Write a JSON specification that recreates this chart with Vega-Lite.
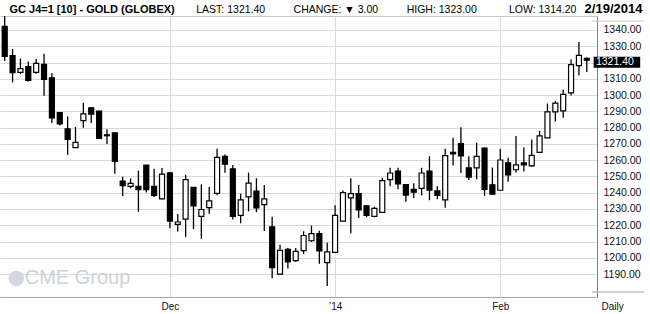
{
  "$schema": "https://vega.github.io/schema/vega-lite/v6.json",
  "width": 597,
  "height": 281,
  "autosize": {"type": "none"},
  "padding": {"left": 0, "top": 16, "right": 53, "bottom": 17},
  "background": "#ffffff",
  "config": {
    "view": {"stroke": null},
    "font": "Liberation Sans",
    "axis": {"labelFont": "Liberation Sans", "titleFont": "Liberation Sans"}
  },
  "data": {
    "values": [
      {"i": 0, "date": "2013-10-31", "open": 1342.2, "high": 1349.0, "low": 1321.0, "close": 1323.8},
      {"i": 1, "date": "2013-11-01", "open": 1324.2, "high": 1328.3, "low": 1307.8, "close": 1313.7},
      {"i": 2, "date": "2013-11-04", "open": 1313.9, "high": 1322.4, "low": 1312.9, "close": 1316.3},
      {"i": 3, "date": "2013-11-05", "open": 1317.5, "high": 1320.6, "low": 1308.4, "close": 1309.0},
      {"i": 4, "date": "2013-11-06", "open": 1313.9, "high": 1322.2, "low": 1313.1, "close": 1319.5},
      {"i": 5, "date": "2013-11-07", "open": 1318.9, "high": 1325.4, "low": 1299.5, "close": 1309.6},
      {"i": 6, "date": "2013-11-08", "open": 1310.6, "high": 1313.5, "low": 1282.9, "close": 1285.9},
      {"i": 7, "date": "2013-11-11", "open": 1289.2, "high": 1289.5, "low": 1281.3, "close": 1282.3},
      {"i": 8, "date": "2013-11-12", "open": 1279.2, "high": 1286.9, "low": 1263.2, "close": 1272.8},
      {"i": 9, "date": "2013-11-13", "open": 1267.7, "high": 1280.3, "low": 1267.5, "close": 1270.9},
      {"i": 10, "date": "2013-11-14", "open": 1284.3, "high": 1295.2, "low": 1279.9, "close": 1288.4},
      {"i": 11, "date": "2013-11-15", "open": 1292.2, "high": 1292.5, "low": 1282.9, "close": 1288.2},
      {"i": 12, "date": "2013-11-18", "open": 1290.2, "high": 1290.4, "low": 1273.2, "close": 1273.4},
      {"i": 13, "date": "2013-11-19", "open": 1275.6, "high": 1279.0, "low": 1269.9, "close": 1275.0},
      {"i": 14, "date": "2013-11-20", "open": 1276.8, "high": 1277.0, "low": 1251.7, "close": 1259.2},
      {"i": 15, "date": "2013-11-21", "open": 1247.1, "high": 1249.8, "low": 1237.8, "close": 1244.3},
      {"i": 16, "date": "2013-11-22", "open": 1243.9, "high": 1248.8, "low": 1242.7, "close": 1245.7},
      {"i": 17, "date": "2013-11-25", "open": 1243.9, "high": 1253.6, "low": 1228.3, "close": 1241.9},
      {"i": 18, "date": "2013-11-26", "open": 1256.9, "high": 1257.1, "low": 1240.1, "close": 1241.9},
      {"i": 19, "date": "2013-11-27", "open": 1243.9, "high": 1254.8, "low": 1237.4, "close": 1238.4},
      {"i": 20, "date": "2013-11-29", "open": 1236.2, "high": 1255.2, "low": 1236.0, "close": 1251.4},
      {"i": 21, "date": "2013-12-02", "open": 1252.2, "high": 1252.4, "low": 1218.2, "close": 1222.6},
      {"i": 22, "date": "2013-12-03", "open": 1220.6, "high": 1226.9, "low": 1216.2, "close": 1222.0},
      {"i": 23, "date": "2013-12-04", "open": 1223.8, "high": 1251.0, "low": 1212.7, "close": 1248.0},
      {"i": 24, "date": "2013-12-05", "open": 1243.3, "high": 1243.5, "low": 1217.6, "close": 1231.9},
      {"i": 25, "date": "2013-12-06", "open": 1225.5, "high": 1245.1, "low": 1211.7, "close": 1229.7},
      {"i": 26, "date": "2013-12-09", "open": 1230.9, "high": 1243.5, "low": 1227.1, "close": 1235.0},
      {"i": 27, "date": "2013-12-10", "open": 1239.6, "high": 1267.0, "low": 1238.4, "close": 1261.7},
      {"i": 28, "date": "2013-12-11", "open": 1262.3, "high": 1263.5, "low": 1252.2, "close": 1257.5},
      {"i": 29, "date": "2013-12-12", "open": 1254.6, "high": 1257.1, "low": 1223.6, "close": 1225.5},
      {"i": 30, "date": "2013-12-13", "open": 1226.1, "high": 1239.4, "low": 1221.3, "close": 1235.6},
      {"i": 31, "date": "2013-12-16", "open": 1237.4, "high": 1252.4, "low": 1228.5, "close": 1245.9},
      {"i": 32, "date": "2013-12-17", "open": 1241.0, "high": 1248.9, "low": 1228.1, "close": 1230.7},
      {"i": 33, "date": "2013-12-18", "open": 1232.7, "high": 1244.7, "low": 1216.5, "close": 1236.2},
      {"i": 34, "date": "2013-12-19", "open": 1219.0, "high": 1225.2, "low": 1187.4, "close": 1194.0},
      {"i": 35, "date": "2013-12-20", "open": 1190.0, "high": 1208.0, "low": 1189.8, "close": 1204.6},
      {"i": 36, "date": "2013-12-23", "open": 1205.2, "high": 1206.0, "low": 1193.4, "close": 1197.5},
      {"i": 37, "date": "2013-12-24", "open": 1198.3, "high": 1206.0, "low": 1197.5, "close": 1204.0},
      {"i": 38, "date": "2013-12-26", "open": 1204.4, "high": 1216.3, "low": 1202.4, "close": 1213.7},
      {"i": 39, "date": "2013-12-27", "open": 1210.5, "high": 1219.8, "low": 1209.8, "close": 1214.9},
      {"i": 40, "date": "2013-12-30", "open": 1214.9, "high": 1216.7, "low": 1196.3, "close": 1204.2},
      {"i": 41, "date": "2013-12-31", "open": 1197.1, "high": 1209.2, "low": 1182.7, "close": 1203.6},
      {"i": 42, "date": "2014-01-02", "open": 1203.4, "high": 1232.3, "low": 1203.2, "close": 1226.1},
      {"i": 43, "date": "2014-01-03", "open": 1222.6, "high": 1241.4, "low": 1222.4, "close": 1240.0},
      {"i": 44, "date": "2014-01-06", "open": 1236.8, "high": 1248.9, "low": 1215.1, "close": 1239.4},
      {"i": 45, "date": "2014-01-07", "open": 1239.4, "high": 1244.7, "low": 1224.5, "close": 1229.5},
      {"i": 46, "date": "2014-01-08", "open": 1232.0, "high": 1232.2, "low": 1224.9, "close": 1226.1},
      {"i": 47, "date": "2014-01-09", "open": 1225.5, "high": 1231.4, "low": 1224.9, "close": 1230.4},
      {"i": 48, "date": "2014-01-10", "open": 1227.9, "high": 1249.2, "low": 1227.7, "close": 1247.4},
      {"i": 49, "date": "2014-01-13", "open": 1248.0, "high": 1255.3, "low": 1243.9, "close": 1252.1},
      {"i": 50, "date": "2014-01-14", "open": 1253.3, "high": 1255.3, "low": 1242.1, "close": 1245.4},
      {"i": 51, "date": "2014-01-15", "open": 1245.0, "high": 1245.2, "low": 1234.4, "close": 1238.5},
      {"i": 52, "date": "2014-01-16", "open": 1242.1, "high": 1245.8, "low": 1236.7, "close": 1240.3},
      {"i": 53, "date": "2014-01-17", "open": 1242.7, "high": 1255.3, "low": 1238.3, "close": 1252.1},
      {"i": 54, "date": "2014-01-21", "open": 1253.3, "high": 1262.4, "low": 1235.4, "close": 1241.5},
      {"i": 55, "date": "2014-01-22", "open": 1241.1, "high": 1243.9, "low": 1236.0, "close": 1238.3},
      {"i": 56, "date": "2014-01-23", "open": 1235.6, "high": 1267.0, "low": 1230.8, "close": 1262.8},
      {"i": 57, "date": "2014-01-24", "open": 1264.8, "high": 1273.7, "low": 1256.7, "close": 1263.8},
      {"i": 58, "date": "2014-01-27", "open": 1270.1, "high": 1280.2, "low": 1252.1, "close": 1262.6},
      {"i": 59, "date": "2014-01-28", "open": 1255.3, "high": 1262.4, "low": 1247.8, "close": 1249.6},
      {"i": 60, "date": "2014-01-29", "open": 1255.3, "high": 1270.7, "low": 1248.2, "close": 1262.3},
      {"i": 61, "date": "2014-01-30", "open": 1267.4, "high": 1267.8, "low": 1238.1, "close": 1242.1},
      {"i": 62, "date": "2014-01-31", "open": 1244.9, "high": 1255.5, "low": 1238.9, "close": 1239.1},
      {"i": 63, "date": "2014-02-03", "open": 1241.5, "high": 1266.8, "low": 1241.3, "close": 1260.1},
      {"i": 64, "date": "2014-02-04", "open": 1258.3, "high": 1261.5, "low": 1246.8, "close": 1251.0},
      {"i": 65, "date": "2014-02-05", "open": 1254.1, "high": 1274.9, "low": 1252.4, "close": 1257.1},
      {"i": 66, "date": "2014-02-06", "open": 1258.3, "high": 1268.0, "low": 1253.0, "close": 1257.1},
      {"i": 67, "date": "2014-02-07", "open": 1256.5, "high": 1272.7, "low": 1255.9, "close": 1263.0},
      {"i": 68, "date": "2014-02-10", "open": 1264.8, "high": 1278.0, "low": 1264.6, "close": 1274.9},
      {"i": 69, "date": "2014-02-11", "open": 1273.7, "high": 1294.8, "low": 1273.5, "close": 1289.7},
      {"i": 70, "date": "2014-02-12", "open": 1289.7, "high": 1296.4, "low": 1283.8, "close": 1295.0},
      {"i": 71, "date": "2014-02-13", "open": 1290.3, "high": 1303.3, "low": 1286.0, "close": 1300.4},
      {"i": 72, "date": "2014-02-14", "open": 1301.4, "high": 1321.9, "low": 1299.8, "close": 1318.7},
      {"i": 73, "date": "2014-02-18", "open": 1318.1, "high": 1332.6, "low": 1312.0, "close": 1324.4},
      {"i": 74, "date": "2014-02-19", "open": 1322.6, "high": 1323.0, "low": 1314.2, "close": 1321.4}
    ]
  },
  "layer": [
    {
      "mark": {"type": "rule", "color": "#000000", "strokeWidth": 1.3, "clip": true},
      "encoding": {
        "x": {
          "field": "i", "type": "quantitative",
          "scale": {"domain": [0.0375, 74.6625], "nice": false, "zero": false},
          "axis": {
            "orient": "bottom", "values": [21, 42, 63],
            "labelExpr": "datum.value == 21 ? 'Dec' : datum.value == 42 ? '\u201914' : 'Feb'",
            "grid": true, "gridColor": "#d9d9d9", "gridWidth": 1,
            "ticks": false, "tickSize": 0,
            "domain": true, "domainColor": "#a6a6a6", "domainWidth": 1,
            "labelFontSize": 10, "labelColor": "#111111", "labelPadding": 4,
            "labelFlush": false, "labelOverlap": false, "labelBound": false,
            "title": "Daily", "titleX": 601, "titleY": 9, "titleAlign": "left",
            "titleBaseline": "middle", "titleFontSize": 10, "titleFontWeight": "normal",
            "titleColor": "#111111", "titleAngle": 0
          }
        },
        "y": {
          "field": "low", "type": "quantitative",
          "scale": {"domain": [1179.0, 1345.5], "nice": false, "zero": false},
          "axis": {
            "orient": "right", "title": null,
            "values": [1190, 1200, 1210, 1220, 1230, 1240, 1250, 1260, 1270, 1280, 1290, 1300, 1310, 1320, 1330, 1340],
            "labelExpr": "datum.value == 1320 ? '' : format(datum.value, '.2f')",
            "grid": true, "gridColor": "#d9d9d9", "gridWidth": 1,
            "ticks": false, "tickSize": 0,
            "domain": true, "domainColor": "#7f7f7f", "domainWidth": 1,
            "labelFontSize": 10.5, "labelColor": "#111111", "labelPadding": 6,
            "labelOverlap": false, "labelFlush": false
          }
        },
        "y2": {"field": "high"}
      }
    },
    {
      "mark": {"type": "bar", "size": 5, "stroke": "#000000", "strokeWidth": 1.2, "clip": true},
      "encoding": {
        "x": {
          "field": "i", "type": "quantitative",
          "scale": {"domain": [0.0375, 74.6625], "nice": false, "zero": false},
          "axis": {
            "orient": "top", "values": [0.54, 24.29, 36.66, 51.04, 64.04, 73.66],
            "labelExpr": "datum.value < 1 ? 'GC J4=1 [10] - GOLD (GLOBEX)' : datum.value < 30 ? 'LAST: 1321.40' : datum.value < 40 ? 'CHANGE: \u25bc 3.00' : datum.value < 60 ? 'HIGH: 1323.00' : datum.value < 70 ? 'LOW: 1314.20' : '2/19/2014'",
            "grid": false, "ticks": false, "tickSize": 0,
            "domain": true, "domainColor": "#c8c8c8", "domainWidth": 1,
            "labelAlign": "left", "labelBaseline": "alphabetic", "labelPadding": 3.5,
            "labelColor": "#000000", "labelFlush": false, "labelOverlap": false, "labelBound": false,
            "labelFontWeight": {"condition": {"test": "datum.value < 1 || datum.value > 70", "value": "bold"}, "value": "normal"},
            "labelFontSize": {"condition": [{"test": "datum.value < 1", "value": 11}, {"test": "datum.value > 70", "value": 13}], "value": 10.5},
            "title": null
          }
        },
        "y": {"field": "open", "type": "quantitative", "axis": null},
        "y2": {"field": "close"},
        "fill": {
          "condition": {"test": "datum.close < datum.open", "value": "#000000"},
          "value": "#ffffff"
        }
      }
    },
    {
      "data": {"values": [{"edge": "top"}]},
      "mark": {"type": "rule", "color": "#c8c8c8", "strokeWidth": 1, "clip": false},
      "encoding": {
        "x": {"datum": 74.6625, "type": "quantitative", "axis": null},
        "x2": {"datum": 81.3},
        "y": {"datum": 1345.5, "type": "quantitative", "axis": null}
      }
    },
    {
      "data": {"values": [{"edge": "bottom"}]},
      "mark": {"type": "rule", "color": "#a6a6a6", "strokeWidth": 1, "clip": false},
      "encoding": {
        "x": {"datum": 74.6625, "type": "quantitative", "axis": null},
        "x2": {"datum": 81.3},
        "y": {"datum": 1179.0, "type": "quantitative", "axis": null}
      }
    },
    {
      "data": {"values": [{"label": "CME Group"}]},
      "mark": {"type": "point", "shape": "circle", "filled": true, "size": 240, "color": "#d3d8de", "opacity": 1},
      "encoding": {
        "x": {"datum": 1.47, "type": "quantitative", "axis": null},
        "y": {"datum": 1187.3, "type": "quantitative", "axis": null}
      }
    },
    {
      "data": {"values": [{"label": "CME Group"}]},
      "mark": {"type": "text", "align": "left", "baseline": "middle", "fontSize": 20, "color": "#cdd2d8", "font": "Liberation Sans"},
      "encoding": {
        "x": {"datum": 2.55, "type": "quantitative", "axis": null},
        "y": {"datum": 1187.3, "type": "quantitative", "axis": null},
        "text": {"field": "label"}
      }
    },
    {
      "data": {"values": [{"last": 1321.4}]},
      "mark": {"type": "bar", "size": 11, "color": "#000000", "yOffset": 2, "clip": false},
      "encoding": {
        "x": {"datum": 74.875, "type": "quantitative", "axis": null},
        "x2": {"datum": 80.79},
        "y": {"field": "last", "type": "quantitative", "axis": null}
      }
    },
    {
      "data": {"values": [{"last": 1321.4}]},
      "mark": {"type": "text", "align": "left", "baseline": "middle", "fontSize": 10.5, "color": "#ffffff", "dy": 2, "font": "Liberation Sans"},
      "encoding": {
        "x": {"datum": 75.16, "type": "quantitative", "axis": null},
        "y": {"field": "last", "type": "quantitative", "axis": null},
        "text": {"field": "last", "format": ".2f"}
      }
    }
  ],
  "resolve": {"axis": {"x": "independent", "y": "independent"}}
}
